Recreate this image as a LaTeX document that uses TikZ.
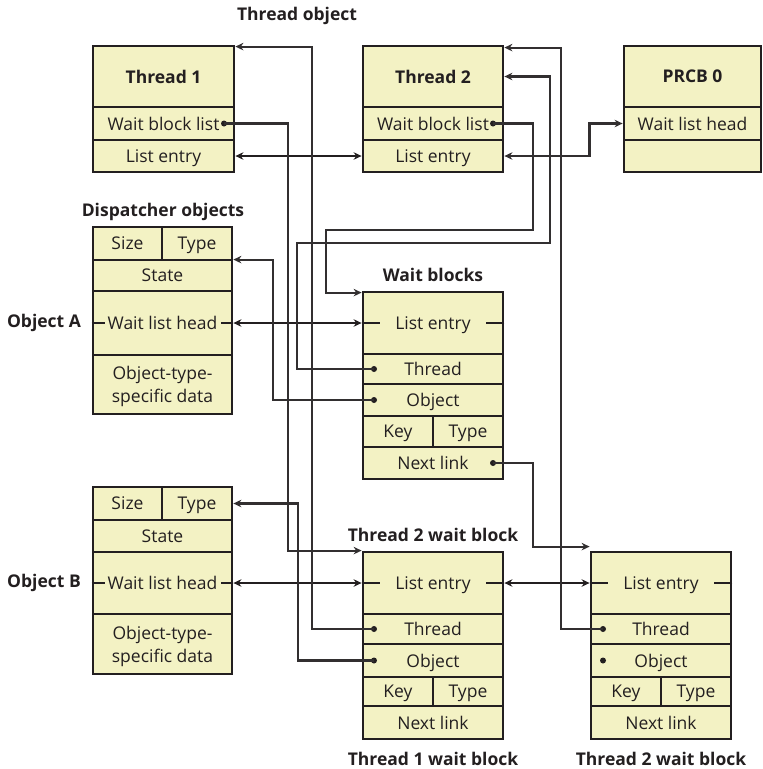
\documentclass[tikz,border=0pt]{standalone}
\usepackage{fontspec}
\setmainfont{Open Sans}
\usetikzlibrary{arrows.meta}
\definecolor{boxfill}{RGB}{243,242,196}
\definecolor{inkcol}{RGB}{35,31,32}
\definecolor{linkcol}{RGB}{50,47,48}
\newcommand\txt{\fontsize{17.5}{23}\selectfont}

\begin{document}
\begin{tikzpicture}[x=1pt, y=-1pt,
  cell/.style 2 args={draw=inkcol, fill=boxfill, line width=2.8pt, inner sep=0pt,
    text=inkcol, font=\txt, align=center, text depth=0pt, minimum width=#1, minimum height=#2},
  head/.style={font=\txt\bfseries},
  title/.style={text=inkcol, font=\txt\bfseries},
  dot/.style={circle, fill=inkcol, inner sep=0pt, minimum size=6pt},
  tick/.style={draw=inkcol, line width=2.8pt},
  ptr/.style={draw=linkcol, line width=2.2pt, -{Stealth[length=8pt,width=7.5pt]}},
  dlink/.style={draw=inkcol, line width=2.8pt, {Stealth[length=8pt,width=7.5pt]}-{Stealth[length=8pt,width=7.5pt]}}]

\useasboundingbox (0,0) rectangle (763,769);

% ---- Thread objects (top row) ----
\node[title] (thobj) at (297,16) {Thread object};

\node[cell={141pt}{61pt}, head] (t1hd) at (163.5,76.5) {Thread 1};
\node[cell={141pt}{33pt}] (t1wb) at (163.5,123.5) {Wait block list};
\node[cell={141pt}{32pt}] (t1le) at (163.5,156) {List entry};

\node[cell={140pt}{61pt}, head] (t2hd) at (433,76.5) {Thread 2};
\node[cell={140pt}{33pt}] (t2wb) at (433,123.5) {Wait block list};
\node[cell={140pt}{32pt}] (t2le) at (433,156) {List entry};

\node[cell={137pt}{61pt}, head] (pchd) at (692.5,76.5) {PRCB 0};
\node[cell={137pt}{33pt}] (pcwl) at (692.5,123.5) {Wait list head};
\node[cell={137pt}{32pt}] (pcem) at (692.5,156) {};

\node[dot] (t1d) at (224,123.5) {};
\node[dot] (t2d) at (493,123.5) {};

% ---- Dispatcher objects (left column) ----
\node[title] (dspo) at (163,212) {Dispatcher objects};

% Object A: rows 227..414
\node[cell={69pt}{33pt}] (oasz) at (127.5,243.5) {Size};
\node[cell={70pt}{33pt}] (oaty) at (197,243.5) {Type};
\node[cell={139pt}{31pt}] (oast) at (162.5,275.5) {State};
\node[cell={139pt}{64pt}] (oawl) at (162.5,323) {Wait list head};
\node[cell={139pt}{59pt}] (oadt) at (162.5,384.5) {Object-type-\\specific data};
\node[title] (oalb) at (44,323) {Object A};

% Object B: rows 487..674
\node[cell={69pt}{33pt}] (obsz) at (127.5,503.5) {Size};
\node[cell={70pt}{33pt}] (obty) at (197,503.5) {Type};
\node[cell={139pt}{32pt}] (obst) at (162.5,536) {State};
\node[cell={139pt}{62pt}] (obwl) at (162.5,583) {Wait list head};
\node[cell={139pt}{60pt}] (obdt) at (162.5,644) {Object-type-\\specific data};
\node[title] (oblb) at (44,583) {Object B};

\draw[tick] (oawl.west) -- ++(13,0);
\draw[tick] (oawl.east) -- ++(-12,0);
\draw[tick] (obwl.west) -- ++(13,0);
\draw[tick] (obwl.east) -- ++(-12,0);

% ---- Wait blocks ----
\node[title] (wblk) at (433,275) {Wait blocks};

% first block, rows 292..479
\node[cell={140pt}{62pt}] (w1le) at (433,323) {List entry};
\node[cell={140pt}{30pt}] (w1th) at (433,369) {Thread};
\node[cell={140pt}{32pt}] (w1ob) at (433,400) {Object};
\node[cell={70pt}{31pt}] (w1ky) at (398,431.5) {Key};
\node[cell={70pt}{31pt}] (w1ty) at (468,431.5) {Type};
\node[cell={140pt}{32pt}] (w1nl) at (433,463) {Next link};

% thread 1 wait block, rows 552..739
\node[title] (w2lb) at (433,535) {Thread 2 wait block};
\node[cell={140pt}{62pt}] (w2le) at (433,583) {List entry};
\node[cell={140pt}{30pt}] (w2th) at (433,629) {Thread};
\node[cell={140pt}{33pt}] (w2ob) at (433,660.5) {Object};
\node[cell={70pt}{29pt}] (w2ky) at (398,691.5) {Key};
\node[cell={70pt}{29pt}] (w2ty) at (468,691.5) {Type};
\node[cell={140pt}{33pt}] (w2nl) at (433,722.5) {Next link};
\node[title] (w2bt) at (433,759) {Thread 1 wait block};

% thread 2 wait block, rows 552..739
\node[cell={140pt}{62pt}] (w3le) at (661,583) {List entry};
\node[cell={140pt}{30pt}] (w3th) at (661,629) {Thread};
\node[cell={140pt}{33pt}] (w3ob) at (661,660.5) {Object};
\node[cell={70pt}{29pt}] (w3ky) at (626,691.5) {Key};
\node[cell={70pt}{29pt}] (w3ty) at (696,691.5) {Type};
\node[cell={140pt}{33pt}] (w3nl) at (661,722.5) {Next link};
\node[title] (w3bt) at (661,759) {Thread 2 wait block};

\foreach \le in {w1le,w2le,w3le} {
  \draw[tick] (\le.west) -- ++(18,0);
  \draw[tick] (\le.east) -- ++(-18,0);
}

\node[dot] (w1thd) at (374,369) {};
\node[dot] (w1obd) at (374,400) {};
\node[dot] (w1nld) at (493,463) {};
\node[dot] (w2thd) at (374,629) {};
\node[dot] (w2obd) at (374,660.5) {};
\node[dot] (w3thd) at (603,629) {};
\node[dot] (w3obd) at (603,660.5) {};

% ---- List links (double headed) ----
\draw[dlink] (t1le.east) -- (t2le.west);
\draw[ptr, {Stealth[length=8pt,width=7.5pt]}-{Stealth[length=8pt,width=7.5pt]}] (t2le.east) -- ++(85,0) |- (pcwl.west);
\draw[dlink] (oawl.east) -- (w1le.west);
\draw[dlink] (obwl.east) -- (w2le.west);
\draw[dlink] (w2le.east) -- (w3le.west);

% ---- Pointers ----
\draw[ptr] (t1d.center) -- ++(64,0) |- (w2le.north west);
\draw[ptr] (t2d.center) -- ++(40,0) -- ++(0,106.5) -- ++(-207,0) |- ([yshift=-2pt]w1le.north west);
\draw[ptr] (w1thd.center) -- ++(-77,0) -- ++(0,-126) -- ++(253,0) |- (t2hd.east);
\draw[ptr] (w1obd.center) -- ++(-101,0) |- ([yshift=-1pt]oast.north east);
\draw[ptr] (w1nld.center) -- ++(40,0) |- ([yshift=4pt]w3le.north west);
\draw[ptr] (w2thd.center) -- ++(-62,0) |- ([yshift=-2pt]t1hd.north east);
\draw[ptr] (w2obd.center) -- ++(-76,0) |- (obty.east);
\draw[ptr] (w3thd.center) -- ++(-42,0) |- ([yshift=-3pt]t2hd.north east);

\end{tikzpicture}
\end{document}
